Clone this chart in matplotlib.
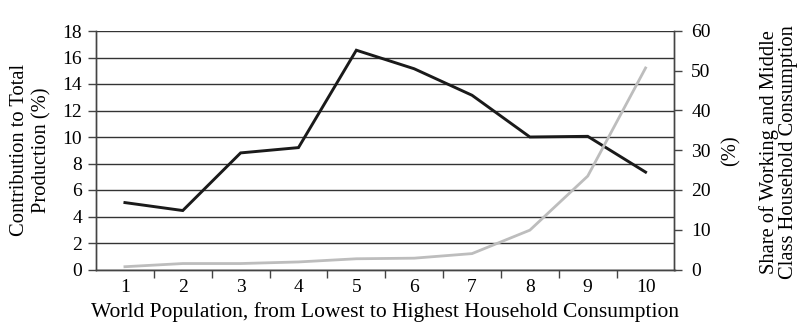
import numpy as np
import matplotlib.pyplot as plt

# ---------- data ----------
deciles = [1, 2, 3, 4, 5, 6, 7, 8, 9, 10]
production_share = [5.05, 4.45, 8.8, 9.2, 16.55, 15.15, 13.15, 10.0, 10.05, 7.35]
working_middle_share = [0.7, 1.5, 1.5, 1.9, 2.7, 2.85, 4.0, 9.9, 23.5, 50.7]

plt.rcParams["font.family"] = ["Liberation Serif", "DejaVu Serif"]
plt.rcParams["font.size"] = 14

dark = "#1a1a1a"
grey = "#bdbdbd"
axc = "#444444"

fig = plt.figure(figsize=(8.04, 3.23), dpi=100)
ax = fig.add_axes([96 / 804, 1 - 269.5 / 323, 578.5 / 804, 238.5 / 323])
ax2 = ax.twinx()

ax.plot(deciles, production_share, color=dark, lw=2.1, zorder=3, solid_joinstyle="miter")
ax2.plot(deciles, working_middle_share, color=grey, lw=2.0, zorder=2)

ax.set_xlim(0.5, 10.5)
ax.set_ylim(0, 18)
ax2.set_ylim(0, 60)
ax.set_yticks(np.arange(0, 19, 2))
ax2.set_yticks(np.arange(0, 61, 10))

# category ticks between deciles, labels centred on deciles
ax.set_xticks(np.arange(1.5, 10.5, 1))
ax.set_xticks(deciles, minor=True)
ax.set_xticklabels([])
ax.set_xticklabels([str(d) for d in deciles], minor=True)
ax.tick_params(axis="x", which="major", length=6, width=1, color=axc, direction="out")
ax.tick_params(axis="x", which="minor", length=0, pad=7)
ax.tick_params(axis="y", length=6, width=1, color=axc, pad=4)
ax2.tick_params(axis="y", length=6, width=1, color=axc, pad=6)

ax.grid(axis="y", color="#333333", lw=1.0)
ax.set_axisbelow(True)
for a in (ax, ax2):
    for s in a.spines.values():
        s.set_color(axc)
        s.set_linewidth(1.0)
    a.spines["top"].set_visible(False)

ax.set_xlabel("World Population, from Lowest to Highest Household Consumption",
              fontsize=15.5, labelpad=4)
fig.text(31 / 804, 0.535, "Contribution to Total\nProduction (%)", rotation=90,
         ha="center", va="center", linespacing=1.2, fontsize=14.8)
fig.text(731 / 804, 0.535, "(%)", rotation=90, ha="center", va="center", fontsize=14.8)
fig.text(779 / 804, 0.53, "Share of Working and Middle\nClass Household Consumption",
         rotation=90, ha="center", va="center", linespacing=1.0, fontsize=14.8)

fig.savefig("out.png", dpi=100)
